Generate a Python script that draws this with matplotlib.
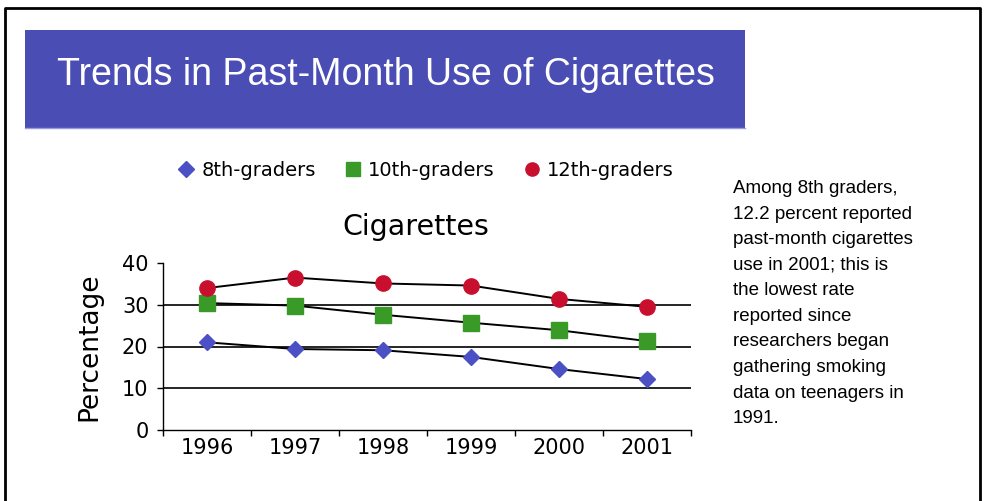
import numpy as np
import matplotlib
matplotlib.use("Agg")
import matplotlib.pyplot as plt
from matplotlib.patches import Rectangle
from matplotlib.lines import Line2D

plt.rcParams['font.family'] = ['DejaVu Sans']

years = ['1996', '1997', '1998', '1999', '2000', '2001']
grade8 = [21.0, 19.4, 19.1, 17.5, 14.6, 12.2]
grade10 = [30.4, 29.8, 27.6, 25.7, 23.9, 21.3]
grade12 = [34.0, 36.5, 35.1, 34.6, 31.4, 29.5]
series_names = ['8th-graders', '10th-graders', '12th-graders']
yticks = [0, 10, 20, 30, 40]

blue = '#4b50c4'
green = '#3a9a28'
red = '#c8102e'

W, H = 985, 501
fig = plt.figure(figsize=(W / 100, H / 100), dpi=100)
fig.patch.set_facecolor('white')

def fx(px):
    return px / W

def fy(py):
    return 1 - py / H

# frame round the slide
fig.add_artist(Line2D([fx(5), fx(5), fx(980), fx(980)], [0, fy(8), fy(8), 0],
                      transform=fig.transFigure, color='black', lw=2))

# blue banner with title
fig.add_artist(Rectangle((fx(25), fy(128)), fx(745) - fx(25), fy(30) - fy(128),
                         transform=fig.transFigure, facecolor='#4a4db4', edgecolor='none'))
fig.add_artist(Line2D([fx(25), fx(745)], [fy(128), fy(128)], transform=fig.transFigure,
                      color='#9a9ce0', lw=1))
fig.text(fx(386), fy(85), 'Trends in Past-Month Use of Cigarettes', color='white',
         fontsize=27, ha='center', va='baseline', family='Liberation Sans')

# chart area
ax = fig.add_axes([fx(163), fy(430), fx(691) - fx(163), fy(263) - fy(430)])
x = np.arange(len(years))
ax.plot(x, grade8, color='black', lw=1.4, marker='D', markersize=8.5,
        markerfacecolor=blue, markeredgecolor=blue, zorder=3)
ax.plot(x, grade10, color='black', lw=1.4, marker='s', markersize=11,
        markerfacecolor=green, markeredgecolor=green, zorder=3)
ax.plot(x, grade12, color='black', lw=1.4, marker='o', markersize=11,
        markerfacecolor=red, markeredgecolor=red, zorder=3)

ax.set_xlim(-0.5, 5.5)
ax.set_ylim(0, 40)
ax.set_yticks(yticks)
ax.set_xticks(x)
ax.set_xticklabels(years)
ax.set_xticks(np.arange(-0.5, 6, 1), minor=True)
ax.tick_params(axis='x', which='major', length=0, labelsize=15, pad=6)
ax.tick_params(axis='x', which='minor', length=4.5, width=1, direction='out')
ax.tick_params(axis='y', length=4.5, width=1, labelsize=15, pad=6)
for v in yticks[1:-1]:
    ax.axhline(v, color='black', lw=1.2, zorder=1)
for s in ['top', 'right']:
    ax.spines[s].set_visible(False)
ax.spines['left'].set_linewidth(1)
ax.spines['bottom'].set_linewidth(1)
ax.set_facecolor('none')
ax.set_ylabel('Percentage', fontsize=19)
ax.yaxis.set_label_coords(-0.1155, 0.5)
fig.text(fx(416), fy(235), 'Cigarettes', fontsize=20.5, ha='center', va='baseline')

handles = [
    Line2D([], [], ls='none', marker='D', markersize=8, color=blue),
    Line2D([], [], ls='none', marker='s', markersize=9.5, color=green),
    Line2D([], [], ls='none', marker='o', markersize=9.5, color=red),
]
fig.legend(handles, series_names, loc='center', bbox_to_anchor=(fx(426), fy(170)),
           ncol=3, frameon=False, fontsize=14, handletextpad=0.4, columnspacing=1.5,
           handlelength=0.8)

note = ("Among 8th graders,\n12.2 percent reported\npast-month cigarettes\n"
        "use in 2001; this is\nthe lowest rate\nreported since\nresearchers began\n"
        "gathering smoking\ndata on teenagers in\n1991.")
fig.text(fx(733), fy(180), note, fontsize=13.5, ha='left', va='top', linespacing=1.66,
         family='Liberation Sans')

fig.savefig('out.png', dpi=100)
